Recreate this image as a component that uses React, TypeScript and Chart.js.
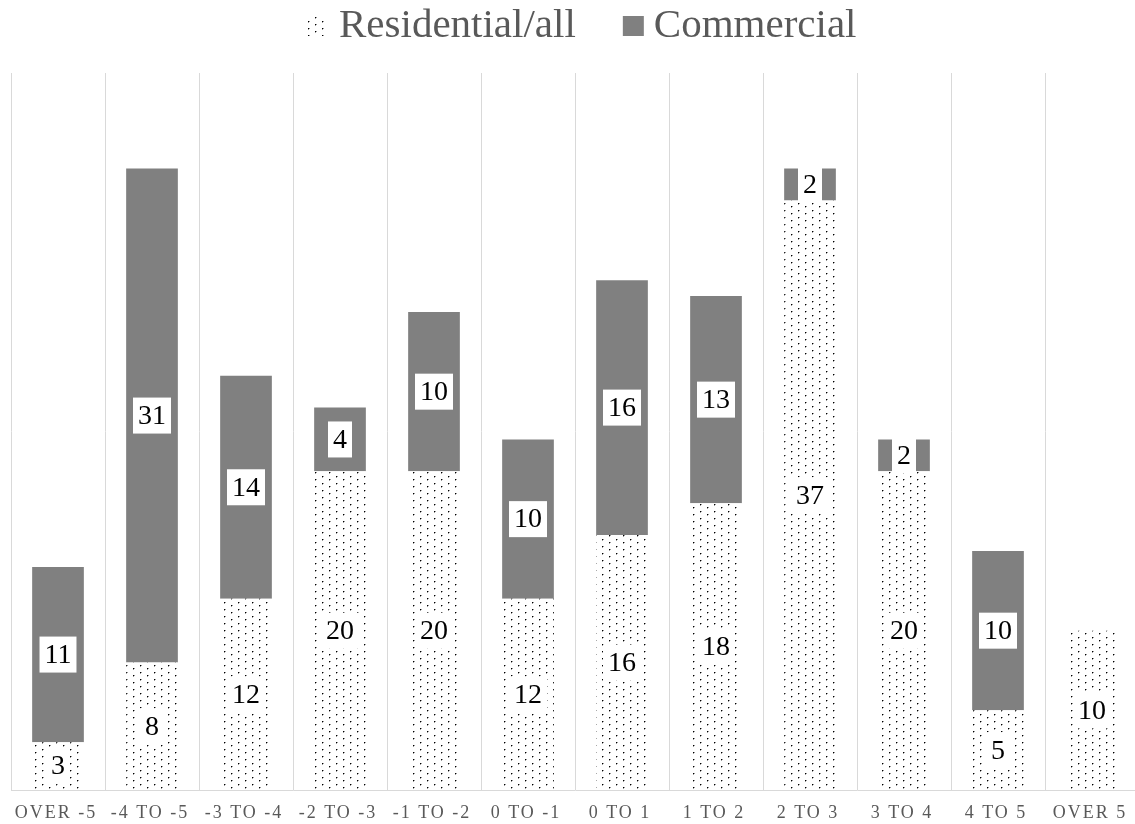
import React, { useEffect, useRef } from "react";
import { Chart, registerables } from "chart.js";

Chart.register(...registerables);

const categories = [
  "OVER -5",
  "-4 TO -5",
  "-3 TO -4",
  "-2 TO -3",
  "-1 TO -2",
  "0 TO -1",
  "0 TO 1",
  "1 TO 2",
  "2 TO 3",
  "3 TO 4",
  "4 TO 5",
  "OVER 5",
];
const residential = [3, 8, 12, 20, 20, 12, 16, 18, 37, 20, 5, 10];
const commercial = [11, 31, 14, 4, 10, 10, 16, 13, 2, 2, 10, 0];
const seriesNames = ["Residential/all", "Commercial"];
const yMin = 0;
const yMax = 45;

const SERIF = "'Liberation Serif', 'Times New Roman', serif";

function makeDotPattern(): CanvasPattern | string {
  const c = document.createElement("canvas");
  c.width = 14;
  c.height = 7;
  const g = c.getContext("2d");
  if (!g) return "#ffffff";
  g.fillStyle = "#ffffff";
  g.fillRect(0, 0, 14, 7);
  g.fillStyle = "#000000";
  g.fillRect(0, 0, 1, 1);
  g.fillRect(7, 3, 1, 1);
  g.fillStyle = "#9a9a9a";
  g.fillRect(1, 0, 1, 1);
  g.fillRect(0, 1, 1, 1);
  g.fillRect(8, 3, 1, 1);
  g.fillRect(7, 4, 1, 1);
  const p = g.createPattern(c, "repeat");
  return p || "#ffffff";
}

const valueLabelPlugin = {
  id: "valueLabels",
  afterDatasetsDraw(chart: any) {
    const ctx: CanvasRenderingContext2D = chart.ctx;
    ctx.save();
    ctx.font = `28px ${SERIF}`;
    ctx.textAlign = "center";
    ctx.textBaseline = "middle";
    chart.data.datasets.forEach((ds: any, di: number) => {
      const meta = chart.getDatasetMeta(di);
      meta.data.forEach((el: any, i: number) => {
        const v = ds.data[i];
        if (!v) return;
        const { x, y, base } = el.getProps(["x", "y", "base"], true);
        const cy = (y + base) / 2;
        const txt = String(v);
        const w = ctx.measureText(txt).width + 10;
        const h = 36;
        ctx.fillStyle = "#ffffff";
        ctx.fillRect(x - w / 2, cy - h / 2, w, h);
        ctx.fillStyle = "#000000";
        ctx.fillText(txt, x, cy + 1);
      });
    });
    ctx.restore();
  },
};

const axisLabelPlugin = {
  id: "axisLabels",
  afterDraw(chart: any) {
    const ctx: any = chart.ctx;
    const xs = chart.scales.x;
    ctx.save();
    ctx.font = `18px ${SERIF}`;
    ctx.textAlign = "center";
    ctx.textBaseline = "alphabetic";
    ctx.fillStyle = "#595959";
    try {
      ctx.letterSpacing = "2px";
    } catch (e) {}
    chart.data.labels.forEach((lab: string, i: number) => {
      const x = xs.getPixelForValue(i);
      ctx.fillText(lab, x - 2, 818);
    });
    ctx.restore();
  },
};

const legendPlugin = {
  id: "customLegend",
  afterDraw(chart: any) {
    const ctx: CanvasRenderingContext2D = chart.ctx;
    ctx.save();
    ctx.font = `41px ${SERIF}`;
    ctx.textAlign = "left";
    ctx.textBaseline = "alphabetic";
    let x = 308;
    chart.data.datasets.forEach((ds: any) => {
      ctx.fillStyle = ds.backgroundColor;
      ctx.fillRect(x, 16, 21, 20);
      x += 21 + 10;
      ctx.fillStyle = "#595959";
      ctx.fillText(ds.label, x, 37);
      x += ctx.measureText(ds.label).width + 47;
    });
    ctx.restore();
  },
};

export default function App() {
  const ref = useRef<HTMLCanvasElement | null>(null);

  useEffect(() => {
    if (!ref.current) return;
    const pattern = makeDotPattern();
    const chart = new Chart(ref.current, {
      type: "bar",
      data: {
        labels: categories,
        datasets: [
          {
            label: seriesNames[0],
            data: residential,
            backgroundColor: pattern as any,
            borderWidth: 0,
            barPercentage: 0.55,
            categoryPercentage: 1,
          },
          {
            label: seriesNames[1],
            data: commercial,
            backgroundColor: "#808080",
            borderWidth: 0,
            barPercentage: 0.55,
            categoryPercentage: 1,
          },
        ],
      },
      options: {
        responsive: false,
        animation: false,
        layout: { padding: { left: 11, right: 11, top: 73, bottom: 34 } },
        scales: {
          x: {
            stacked: true,
            offset: true,
            grid: {
              offset: true,
              color: "#d9d9d9",
              lineWidth: 1,
              drawTicks: false,
            },
            border: { display: true, color: "#d9d9d9", width: 1 },
            ticks: { display: false },
          },
          y: {
            stacked: true,
            display: false,
            min: yMin,
            max: yMax,
          },
        },
        plugins: {
          legend: { display: false },
          tooltip: { enabled: false },
        },
      },
      plugins: [valueLabelPlugin, axisLabelPlugin, legendPlugin],
    });
    return () => chart.destroy();
  }, []);

  return (
    <div
      style={{
        position: "fixed",
        left: 0,
        top: 0,
        width: 1135,
        height: 824,
        overflow: "hidden",
        background: "#ffffff",
      }}
    >
      <canvas
        ref={ref}
        width={1150}
        height={824}
        style={{ width: 1150, height: 824, display: "block" }}
      />
    </div>
  );
}
